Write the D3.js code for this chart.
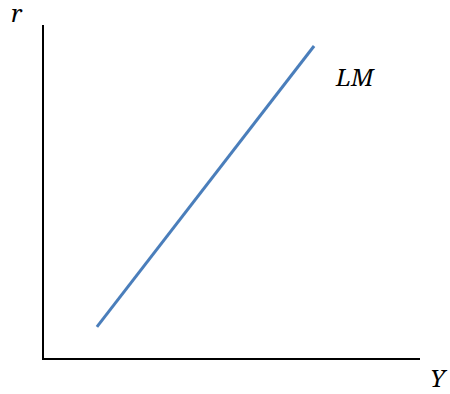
<!DOCTYPE html>
<html>
<head>
<meta charset="utf-8">
<script src="https://cdn.jsdelivr.net/npm/d3@7"></script>
<style>
  html, body { margin: 0; padding: 0; background: #fff; }
  svg { display: block; }
</style>
</head>
<body>
<div id="chart"></div>
<script>
// LM curve endpoints (Y, r) in arbitrary units 0..10
const lmY = [1.43, 7.19];
const lmR = [0.96, 9.37];
const xDomain = [0, 10];
const yDomain = [0, 10];
const axisLabels = {x: "Y", y: "r", curve: "LM"};

const width = 450
, height = 394
, margin = {top: 25, right: 30, bottom: 35, left: 43}
, innerWidth = width - margin.left - margin.right
, innerHeight = height - margin.top - margin.bottom
, labelFont = "'Noto Serif', serif";

const svg = d3.select("#chart").append("svg")
  .attr("width", width)
  .attr("height", height);

const g = svg.append("g")
  .attr("transform", `translate(${margin.left},${margin.top})`);

const xScale = d3.scaleLinear().domain(xDomain).range([0, innerWidth]);
const yScale = d3.scaleLinear().domain(yDomain).range([innerHeight, 0]);

// axes: plain lines, no ticks
g.append("path")
  .attr("d", d3.line()([[xScale(0), yScale(10)], [xScale(0), yScale(0)], [xScale(10), yScale(0)]]))
  .attr("fill", "none")
  .attr("stroke", "#000")
  .attr("stroke-width", 2);

// the LM line
const lineData = lmY.map((y, i) => ({x: y, r: lmR[i]}));
g.append("path")
  .attr("d", d3.line().x(d => xScale(d.x)).y(d => yScale(d.r))(lineData))
  .attr("fill", "none")
  .attr("stroke", "#4A7EBB")
  .attr("stroke-width", 3);

// labels
const addLabel = (x, y, t) => svg.append("text")
  .attr("x", x).attr("y", y)
  .style("font-family", labelFont)
  .style("font-style", "italic")
  .style("font-size", "24px")
  .style("fill", "#000")
  .text(t);

addLabel(11, 22, axisLabels.y);
addLabel(430, 387, axisLabels.x);
addLabel(336, 86, axisLabels.curve);
</script>
</body>
</html>
